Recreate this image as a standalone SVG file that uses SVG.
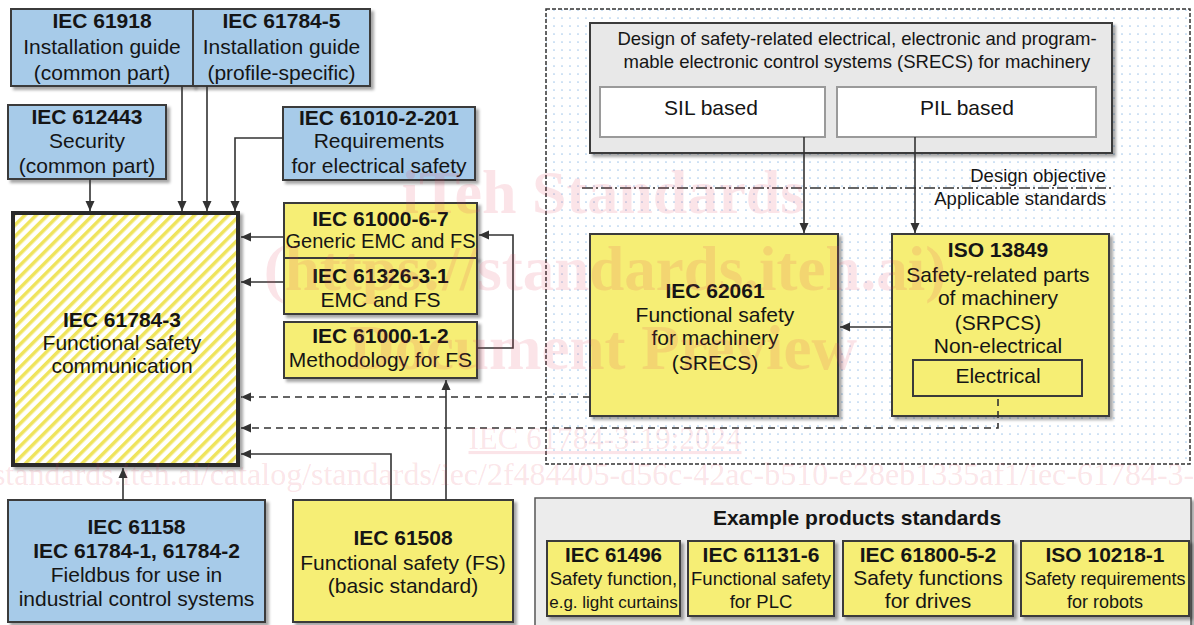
<svg xmlns="http://www.w3.org/2000/svg" width="1194" height="625" viewBox="0 0 1194 625">
<defs>
<style>
.t{font-family:"Liberation Sans",Arial,sans-serif;font-size:21px;fill:#151515;text-anchor:middle}
.bd{font-weight:bold}
.s18{font-size:18px}
.s185{font-size:18.5px}
.blue{fill:#a7cbe9;stroke:#3a3a3a;stroke-width:2}
.yel{fill:#f6ee74;stroke:#3a3a3a;stroke-width:2}
.c{fill:none;stroke:#333;stroke-width:1.6}
.d{fill:none;stroke:#333;stroke-width:1.6;stroke-dasharray:7 5}
.wm{font-family:"Liberation Serif","Times New Roman",serif;fill:#e0405a;fill-opacity:0.14;text-anchor:middle}
</style>
<filter id="sh" x="-10%" y="-10%" width="130%" height="130%"><feDropShadow dx="3" dy="3" stdDeviation="1.5" flood-color="#000" flood-opacity="0.35"/></filter>
<marker id="ah" viewBox="0 0 10 10" refX="10" refY="5" markerWidth="10" markerHeight="10" markerUnits="userSpaceOnUse" orient="auto"><path d="M0,0.5L10,5L0,9.5z" fill="#333"/></marker>
<pattern id="stripes" width="8" height="8" patternUnits="userSpaceOnUse" patternTransform="rotate(45)"><rect width="8" height="8" fill="#fff"/><rect width="3.5" height="8" fill="#efe45c"/></pattern>
<pattern id="dots" width="8" height="8" patternUnits="userSpaceOnUse"><rect width="8" height="8" fill="#fff"/><circle cx="2" cy="2" r="0.85" fill="#a8cbed"/></pattern>
</defs>
<rect width="1194" height="625" fill="#fff"/>

<g id="container">
<rect x="546" y="9" width="644" height="455" fill="url(#dots)" stroke="#333" stroke-width="1.5" stroke-dasharray="4 2"/>
</g>

<g id="iec61918">
<rect x="11" y="9" width="182" height="77" class="blue" filter="url(#sh)"/>
<text class="t bd" x="102" y="27.5">IEC 61918</text>
<text class="t" x="102" y="54">Installation guide</text>
<text class="t" x="102" y="80">(common part)</text>
</g>
<g id="iec61784-5">
<rect x="193" y="9" width="177" height="77" class="blue" filter="url(#sh)"/>
<text class="t bd" x="281.5" y="27.5">IEC 61784-5</text>
<text class="t" x="281.5" y="54">Installation guide</text>
<text class="t" x="281.5" y="80">(profile-specific)</text>
</g>
<g id="iec612443">
<rect x="8" y="105" width="158" height="74" class="blue" filter="url(#sh)"/>
<text class="t bd" x="87" y="124">IEC 612443</text>
<text class="t" x="87" y="148">Security</text>
<text class="t" x="87" y="173">(common part)</text>
</g>
<g id="iec61010-2-201">
<rect x="283" y="107" width="192" height="73" class="blue" filter="url(#sh)"/>
<text class="t bd" x="379" y="125">IEC 61010-2-201</text>
<text class="t" x="379" y="148">Requirements</text>
<text class="t" x="379" y="173">for electrical safety</text>
</g>
<g id="iec61000-6-7">
<rect x="284" y="203" width="193" height="55" class="yel" filter="url(#sh)"/>
<text class="t bd" x="380.5" y="226">IEC 61000-6-7</text>
<text class="t" x="380.5" y="248" style="font-size:20px">Generic EMC and FS</text>
</g>
<g id="iec61326-3-1">
<rect x="284" y="258" width="193" height="56" class="yel" filter="url(#sh)"/>
<text class="t bd" x="380.5" y="283">IEC 61326-3-1</text>
<text class="t" x="380.5" y="307">EMC and FS</text>
</g>
<g id="iec61000-1-2">
<rect x="284" y="322" width="193" height="56" class="yel" filter="url(#sh)"/>
<text class="t bd" x="380.5" y="343">IEC 61000-1-2</text>
<text class="t" x="380.5" y="367">Methodology for FS</text>
</g>
<g id="iec61784-3">
<rect x="13" y="213" width="225" height="252" fill="url(#stripes)" stroke="#2b2b2b" stroke-width="4" filter="url(#sh)"/>
<text class="t bd" x="122" y="327">IEC 61784-3</text>
<text class="t" x="122" y="350">Functional safety</text>
<text class="t" x="122" y="373">communication</text>
</g>
<g id="iec61158">
<rect x="8" y="500" width="257" height="122" class="blue" filter="url(#sh)"/>
<text class="t bd" x="136.5" y="534">IEC 61158</text>
<text class="t bd" x="136.5" y="558">IEC 61784-1, 61784-2</text>
<text class="t" x="136.5" y="582">Fieldbus for use in</text>
<text class="t" x="136.5" y="606">industrial control systems</text>
</g>
<g id="iec61508">
<rect x="293" y="500" width="220" height="122" class="yel" filter="url(#sh)"/>
<text class="t bd" x="403" y="545">IEC 61508</text>
<text class="t" x="403" y="570">Functional safety (FS)</text>
<text class="t" x="403" y="593">(basic standard)</text>
</g>
<g id="design">
<rect x="590" y="23" width="522" height="130" fill="#e8e8e8" stroke="#3a3a3a" stroke-width="2" filter="url(#sh)"/>
<text class="t s185" x="857" y="45">Design of safety-related electrical, electronic and program-</text>
<text class="t s185" x="857" y="68">mable electronic control systems (SRECS) for machinery</text>
</g>
<g id="sil">
<rect x="600" y="87" width="225" height="50" fill="#fff" stroke="#9a9a9a" stroke-width="2"/>
<text class="t" x="711" y="115">SIL based</text>
</g>
<g id="pil">
<rect x="837" y="87" width="259" height="50" fill="#fff" stroke="#9a9a9a" stroke-width="2"/>
<text class="t" x="967" y="115">PIL based</text>
</g>
<g id="objective">
<line x1="582" y1="188" x2="1113" y2="188" stroke="#333" stroke-width="1.5" stroke-dasharray="11 3 2 3"/>
<text class="t s185" x="1106" y="182" style="text-anchor:end">Design objective</text>
<text class="t s185" x="1106" y="205" style="text-anchor:end">Applicable standards</text>
</g>
<g id="iec62061">
<rect x="590" y="234" width="248" height="182" class="yel" filter="url(#sh)"/>
<text class="t bd" x="715" y="298">IEC 62061</text>
<text class="t" x="715" y="322">Functional safety</text>
<text class="t" x="715" y="345">for machinery</text>
<text class="t" x="715" y="370">(SRECS)</text>
</g>
<g id="iso13849">
<rect x="892" y="234" width="217" height="182" class="yel" filter="url(#sh)"/>
<text class="t bd" x="998" y="257">ISO 13849</text>
<text class="t" x="998" y="282">Safety-related parts</text>
<text class="t" x="998" y="305">of machinery</text>
<text class="t" x="998" y="330">(SRPCS)</text>
<text class="t" x="998" y="353">Non-electrical</text>
<rect x="913" y="360" width="169" height="36" class="yel"/>
<text class="t" x="998" y="383">Electrical</text>
</g>
<g id="examples">
<rect x="535" y="498" width="656" height="132" fill="#ececec" stroke="#555" stroke-width="1.5" filter="url(#sh)"/>
<text class="t bd" x="857" y="525">Example products standards</text>
</g>
<g id="iec61496">
<rect x="547" y="541" width="133" height="75" class="yel" filter="url(#sh)"/>
<text class="t bd" x="613.5" y="562" style="font-size:20.5px">IEC 61496</text>
<text class="t s185" x="613.5" y="585">Safety function,</text>
<text class="t" x="613.5" y="608" style="font-size:17px">e.g. light curtains</text>
</g>
<g id="iec61131-6">
<rect x="688" y="541" width="146" height="75" class="yel" filter="url(#sh)"/>
<text class="t bd" x="761" y="562">IEC 61131-6</text>
<text class="t s185" x="761" y="585">Functional safety</text>
<text class="t s185" x="761" y="608">for PLC</text>
</g>
<g id="iec61800-5-2">
<rect x="843" y="541" width="170" height="75" class="yel" filter="url(#sh)"/>
<text class="t bd" x="928" y="562">IEC 61800-5-2</text>
<text class="t" x="928" y="585">Safety functions</text>
<text class="t" x="928" y="608">for drives</text>
</g>
<g id="iso10218-1">
<rect x="1021" y="541" width="168" height="75" class="yel" filter="url(#sh)"/>
<text class="t bd" x="1105" y="562">ISO 10218-1</text>
<text class="t s18" x="1105" y="585">Safety requirements</text>
<text class="t s18" x="1105" y="608">for robots</text>
</g>

<g id="connectors">
<path class="c" d="M90,179V211" marker-end="url(#ah)"/>
<path class="c" d="M182,86V211" marker-end="url(#ah)"/>
<path class="c" d="M207,86V211" marker-end="url(#ah)"/>
<path class="c" d="M283,138H235V211" marker-end="url(#ah)"/>
<path class="c" d="M284,237H241" marker-end="url(#ah)"/>
<path class="c" d="M284,282H241" marker-end="url(#ah)"/>
<path class="c" d="M477,348H513V235H479" marker-end="url(#ah)"/>
<path class="d" d="M590,397H241" marker-end="url(#ah)"/>
<path class="d" d="M998,399V428H241" marker-end="url(#ah)"/>
<path class="c" d="M391,500V454H241" marker-end="url(#ah)"/>
<path class="c" d="M446,500V380" marker-end="url(#ah)"/>
<path class="c" d="M123,500V468" marker-end="url(#ah)"/>
<path class="c" d="M804,137V233" marker-end="url(#ah)"/>
<path class="c" d="M915,137V233" marker-end="url(#ah)"/>
<path class="c" d="M892,327H840" marker-end="url(#ah)"/>
</g>

<g id="watermark">
<text class="wm" x="603" y="213" style="font-size:62px;font-weight:bold">iTeh Standards</text>
<text class="wm" x="605" y="290" style="font-size:63px;font-weight:bold">(https://standards.iteh.ai)</text>
<text class="wm" x="603" y="369" style="font-size:63px;font-weight:bold">Document Preview</text>
<text class="wm" x="605" y="449" style="font-size:31px;text-decoration:underline">IEC 61784-3-19:2024</text>
<text class="wm" x="-96" y="485" style="font-size:32px;text-anchor:start">https://standards.iteh.ai/catalog/standards/iec/2f484405-d56c-42ac-b510-e28eb1335af1/iec-61784-3-19-2024</text>
</g>
</svg>
